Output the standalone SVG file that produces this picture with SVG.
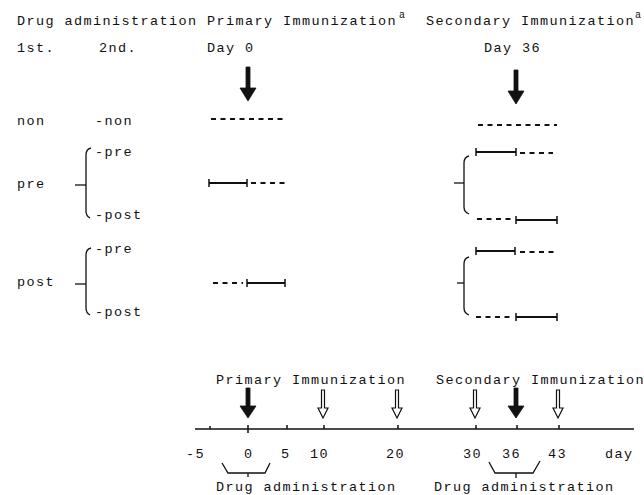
<svg xmlns="http://www.w3.org/2000/svg" width="644" height="495" viewBox="0 0 644 495">
<style>
.t{font-family:"Liberation Mono","DejaVu Sans Mono",monospace;font-size:13.5px;letter-spacing:1.4px;fill:#111}
.sup{font-size:10px;letter-spacing:0}
.sol{stroke:#111;stroke-width:2;fill:none}
.tk{stroke:#111;stroke-width:1.5;fill:none}
.dsh{stroke:#111;stroke-width:2;fill:none;stroke-dasharray:5 4.5}
.br{stroke:#111;stroke-width:1.3;fill:none}
.fa{fill:#111;stroke:#111;stroke-width:0.8}
.oa{fill:#fff;stroke:#111;stroke-width:1.2}
.ax{stroke:#111;stroke-width:1.6;fill:none}
</style>
<rect width="644" height="495" fill="#fff"/>

<g id="header">
<text class="t" x="17" y="25">Drug administration Primary Immunization</text>
<text class="t sup" x="399" y="18">a</text>
<text class="t" x="426" y="25">Secondary Immunization</text>
<text class="t sup" x="635" y="18">a</text>
<text class="t" x="17" y="52">1st.</text>
<text class="t" x="99" y="52">2nd.</text>
<text class="t" x="207" y="52">Day 0</text>
<text class="t" x="484" y="52">Day 36</text>
</g>

<g id="row-labels">
<text class="t" x="17" y="125">non</text>
<text class="t" x="95" y="125">-non</text>
<text class="t" x="17" y="188">pre</text>
<text class="t" x="95" y="156">-pre</text>
<text class="t" x="95" y="219">-post</text>
<text class="t" x="17" y="286">post</text>
<text class="t" x="95" y="253">-pre</text>
<text class="t" x="95" y="316">-post</text>
</g>

<g id="brackets">
<path class="br" d="M91,148 Q86,149 86,155 V211 Q86,216 90,218"/>
<path class="br" d="M75,185 H86"/>
<path class="br" d="M91,248 Q86,249 86,255 V308 Q86,313 90,315"/>
<path class="br" d="M75,284 H86"/>
<path class="br" d="M469,156 Q464,157 464,163 V207 Q464,212 469,214"/>
<path class="br" d="M454,183 H464"/>
<path class="br" d="M469,257 Q464,258 464,264 V308 Q464,313 469,315"/>
<path class="br" d="M457,283 H464"/>
</g>

<g id="top-arrows">
<path class="fa" d="M246,67 h4 v21 h6 l-8,13 l-8,-13 h6 z"/>
<path class="fa" d="M514,70 h4 v21 h6 l-8,13 l-8,-13 h6 z"/>
</g>

<g id="schedule-lines">
<path class="dsh" d="M211,119 H286"/>
<path class="dsh" d="M478,125 H557"/>
<path class="sol" d="M209,183 H247"/>
<path class="tk" d="M209,179 V187 M247,179 V187"/>
<path class="dsh" d="M251,183 H288"/>
<path class="dsh" d="M213,283 H243"/>
<path class="sol" d="M247,283 H285"/>
<path class="tk" d="M247,279 V287 M285,279 V287"/>
<path class="sol" d="M476,152 H516"/>
<path class="tk" d="M476,148 V156 M516,148 V156"/>
<path class="dsh" d="M520,153 H553"/>
<path class="dsh" d="M477,219 H512"/>
<path class="sol" d="M516,220 H557"/>
<path class="tk" d="M516,216 V224 M557,216 V224"/>
<path class="sol" d="M476,251 H515"/>
<path class="tk" d="M476,247 V255 M515,247 V255"/>
<path class="dsh" d="M520,252 H555"/>
<path class="dsh" d="M476,317 H512"/>
<path class="sol" d="M516,317 H557"/>
<path class="tk" d="M516,313 V321 M557,313 V321"/>
</g>

<g id="timeline">
<text class="t" x="216" y="384">Primary Immunization</text>
<text class="t" x="436" y="384">Secondary Immunization</text>
<path class="ax" d="M195,429 H634"/>
<path class="tk" d="M210,426 V429 M248,425 V433 M287,425 V429 M324,425 V429 M398,425 V429 M476,425 V429 M517,425 V429 M559,425 V429"/>
<path class="fa" d="M246,388 h4 v18 h6 l-8,12 l-8,-12 h6 z"/>
<path class="fa" d="M514,388 h4 v18 h6 l-8,12 l-8,-12 h6 z"/>
<path class="oa" d="M321.5,390 h3 v18 h3.5 l-5,10 l-5,-10 h3.5 z"/>
<path class="oa" d="M395.5,390 h3 v18 h3.5 l-5,10 l-5,-10 h3.5 z"/>
<path class="oa" d="M473.5,390 h3 v18 h3.5 l-5,10 l-5,-10 h3.5 z"/>
<path class="oa" d="M556.5,390 h3 v18 h3.5 l-5,10 l-5,-10 h3.5 z"/>
<text class="t" x="186" y="458">-5</text>
<text class="t" x="244" y="458">0</text>
<text class="t" x="281" y="458">5</text>
<text class="t" x="310" y="458">10</text>
<text class="t" x="386" y="458">20</text>
<text class="t" x="463" y="458">30</text>
<text class="t" x="502" y="458">36</text>
<text class="t" x="548" y="458">43</text>
<text class="t" x="605" y="458">day</text>
<path class="br" d="M222,463 L228,473 H265 L270,463 M248,473 V477"/>
<path class="br" d="M489,462 L495,473 H533 L540,461 M516,473 V478"/>
<text class="t" x="216" y="491">Drug administration</text>
<text class="t" x="434" y="491">Drug administration</text>
</g>
</svg>
